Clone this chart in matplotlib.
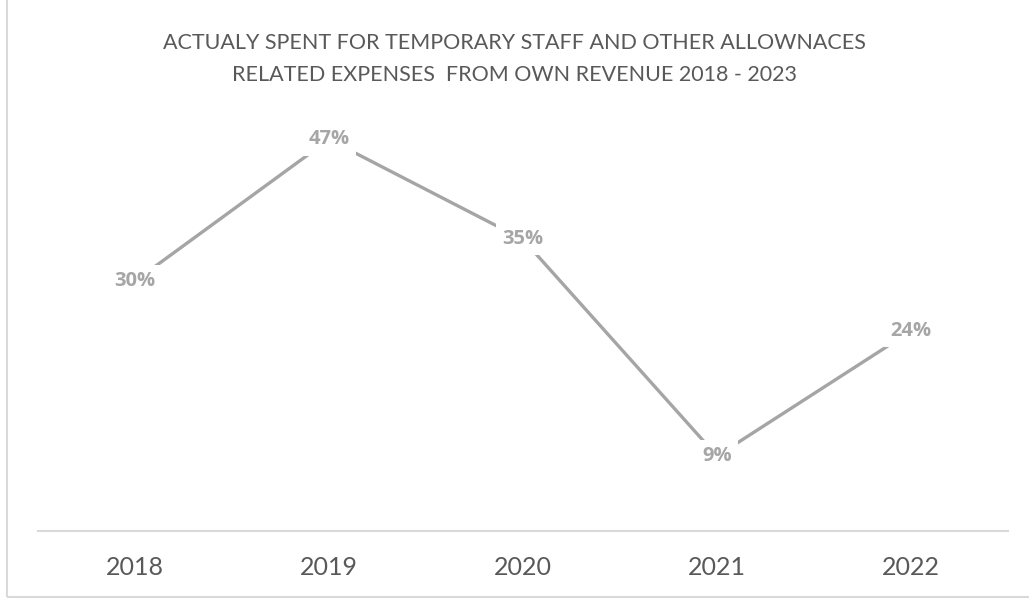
import matplotlib
matplotlib.use("Agg")
import matplotlib.pyplot as plt
from matplotlib.patches import Rectangle

years = ["2018", "2019", "2020", "2021", "2022"]
values = [30, 47, 35, 9, 24]
labels = ["30%", "47%", "35%", "9%", "24%"]
title = "ACTUALY SPENT FOR TEMPORARY STAFF AND OTHER ALLOWNACES\nRELATED EXPENSES  FROM OWN REVENUE 2018 - 2023"

plt.rcParams['font.family'] = ['Lato', 'DejaVu Sans']
W, H = 1029, 600
fig = plt.figure(figsize=(W/100, H/100), dpi=100)
ax = fig.add_axes([38/W, (H-531)/H, (1008-38)/W, (531-114.5)/H])

x = list(range(len(years)))
ax.plot(x, values, color="#a5a5a5", lw=2.4, solid_capstyle="butt", zorder=2)
for xi, v, lab in zip(x, values, labels):
    ax.text(xi, v, lab, ha="center", va="center", fontsize=14.5, fontweight="bold",
            family=["Open Sans", "DejaVu Sans"],
            color="#a6a6a6", zorder=3,
            bbox=dict(boxstyle="square,pad=0.3", fc="white", ec="none"))

ax.set_xlim(-0.5, len(years) - 0.5)
ax.set_ylim(0, 50)
ax.set_xticks(x)
ax.set_xticklabels(years, fontsize=18, color="#595959")
ax.tick_params(axis="x", length=0, pad=18)
ax.set_yticks([])
for s in ["top", "right", "left"]:
    ax.spines[s].set_visible(False)
ax.spines["bottom"].set_color("#d9d9d9")
ax.spines["bottom"].set_linewidth(1.5)

fig.text(0.5, 1 - 59/H, title, ha="center", va="center", fontsize=15.5,
         color="#595959", linespacing=1.75)

fig.patches.append(Rectangle((7/W, 3/H), 1.0, 1.0, transform=fig.transFigure,
                             fill=False, ec="#d9d9d9", lw=1.5))

fig.savefig("out.png", dpi=100)
